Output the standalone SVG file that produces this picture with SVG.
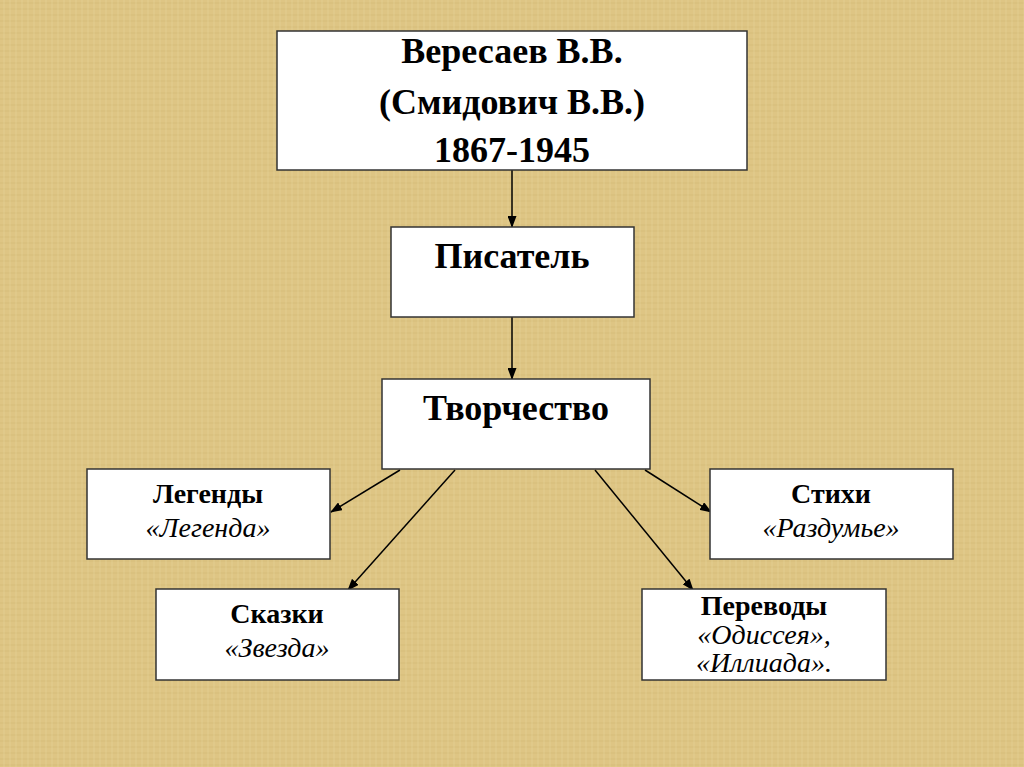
<svg xmlns="http://www.w3.org/2000/svg" width="1024" height="767" viewBox="0 0 1024 767">
<defs>
<style>
.box{fill:#fff;stroke:#333;stroke-width:1.5}
.b{font-family:"Liberation Serif","Times New Roman",serif;font-weight:bold;fill:#000;text-anchor:middle}
.i{font-family:"Liberation Serif","Times New Roman",serif;font-style:italic;fill:#000;text-anchor:middle}
.c{stroke:#000;stroke-width:1.5;fill:none;marker-end:url(#ah)}
</style>
<marker id="ah" markerWidth="12" markerHeight="9" refX="11" refY="4.5" orient="auto" markerUnits="userSpaceOnUse">
<path d="M0,0 L12,4.5 L0,9 Z" fill="#000"/>
</marker>
<pattern id="weave" width="12" height="12" patternUnits="userSpaceOnUse">
<rect width="12" height="12" fill="#DEC584"/>
<path d="M0,3 H12 M0,9 H12" stroke="#D0B46E" stroke-width="1" opacity="0.5"/>
<path d="M4,0 V12 M10,0 V12" stroke="#E8D49C" stroke-width="1" opacity="0.5"/>
</pattern>
</defs>
<rect width="1024" height="767" fill="url(#weave)"/>
<g id="connectors">
<line class="c" x1="512" y1="170" x2="512" y2="227"/>
<line class="c" x1="512" y1="317" x2="512" y2="379"/>
<line class="c" x1="400" y1="470" x2="331" y2="512"/>
<line class="c" x1="455" y1="470" x2="348" y2="590"/>
<line class="c" x1="595" y1="470" x2="693" y2="590"/>
<line class="c" x1="645" y1="470" x2="711" y2="512"/>
</g>
<g id="node-vereseev">
<rect class="box" x="277" y="31" width="470" height="139"/>
<text class="b" x="512" y="63" font-size="36">Вересаев В.В.</text>
<text class="b" x="512" y="114" font-size="36">(Смидович В.В.)</text>
<text class="b" x="512" y="162" font-size="36">1867-1945</text>
</g>
<g id="node-pisatel">
<rect class="box" x="391" y="227" width="243" height="90"/>
<text class="b" x="512" y="268" font-size="36">Писатель</text>
</g>
<g id="node-tvorchestvo">
<rect class="box" x="382" y="379" width="268" height="90"/>
<text class="b" x="516" y="420" font-size="36">Творчество</text>
</g>
<g id="node-legendy">
<rect class="box" x="87" y="469" width="243" height="90"/>
<text class="b" x="208" y="503" font-size="28">Легенды</text>
<text class="i" x="208" y="537" font-size="28">«Легенда»</text>
</g>
<g id="node-skazki">
<rect class="box" x="156" y="589" width="243" height="91"/>
<text class="b" x="277" y="623" font-size="28">Сказки</text>
<text class="i" x="277" y="657" font-size="28">«Звезда»</text>
</g>
<g id="node-stikhi">
<rect class="box" x="710" y="469" width="243" height="90"/>
<text class="b" x="831" y="503" font-size="28">Стихи</text>
<text class="i" x="831" y="537" font-size="28">«Раздумье»</text>
</g>
<g id="node-perevody">
<rect class="box" x="642" y="589" width="244" height="91"/>
<text class="b" x="764" y="615" font-size="28">Переводы</text>
<text class="i" x="764" y="644" font-size="28">«Одиссея»,</text>
<text class="i" x="764" y="672" font-size="28">«Иллиада».</text>
</g>
</svg>
